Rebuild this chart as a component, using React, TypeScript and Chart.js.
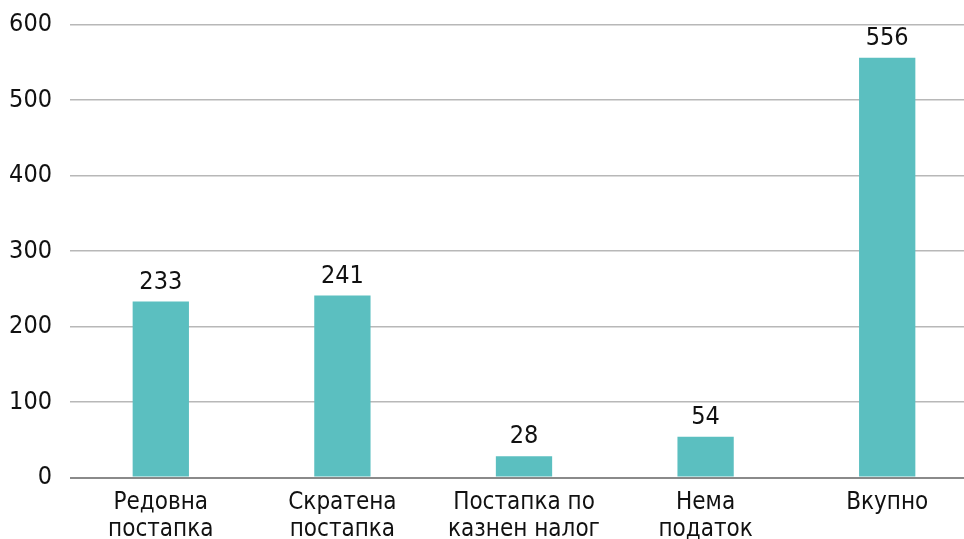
import React, { useEffect, useRef } from "react";
import { Chart, registerables } from "chart.js";

Chart.register(...registerables);

const categories: string[][] = [
  ["Редовна", "постапка"],
  ["Скратена", "постапка"],
  ["Постапка по", "казнен налог"],
  ["Нема", "податок"],
  ["Вкупно"],
];
const values: number[] = [233, 241, 28, 54, 556];
const yTicks: number[] = [0, 100, 200, 300, 400, 500, 600];

const FONT = "'DejaVu Sans Condensed', 'DejaVu Sans', sans-serif";

const valueLabels = {
  id: "valueLabels",
  afterDatasetsDraw(chart: any) {
    const ctx = chart.ctx;
    const meta = chart.getDatasetMeta(0);
    ctx.save();
    ctx.font = `25px ${FONT}`;
    ctx.fillStyle = "#111111";
    ctx.textAlign = "center";
    ctx.textBaseline = "alphabetic";
    meta.data.forEach((bar: any, i: number) => {
      ctx.fillText(String(values[i]), bar.x, bar.y - 13);
    });
    ctx.restore();
  },
};

export default function App() {
  const ref = useRef<HTMLCanvasElement | null>(null);
  useEffect(() => {
    if (!ref.current) return;
    const chart = new Chart(ref.current, {
      type: "bar",
      data: {
        labels: categories,
        datasets: [
          {
            data: values,
            backgroundColor: "#5BBFC0",
            borderWidth: 0,
            barPercentage: 0.31,
            categoryPercentage: 1,
          },
        ],
      },
      options: {
        responsive: false,
        animation: false,
        devicePixelRatio: 1,
        layout: { padding: { top: 24.5, right: 0, left: 0, bottom: 0 } },
        plugins: { legend: { display: false }, tooltip: { enabled: false } },
        scales: {
          x: {
            grid: { display: false, drawTicks: false },
            border: { display: false },
            ticks: {
              padding: 11,
              color: "#111111",
              font: { family: FONT, size: 24, lineHeight: 1.15 },
              maxRotation: 0,
              autoSkip: false,
            },
            afterFit(scale: any) {
              scale.height = 61.5;
            },
          },
          y: {
            min: 0,
            max: 600,
            afterBuildTicks(scale: any) {
              scale.ticks = yTicks.map((v) => ({ value: v }));
            },
            grid: {
              drawTicks: true,
              tickLength: 18,
              tickColor: "rgba(0,0,0,0)",
              color: (c: any) => (c.tick && c.tick.value === 0 ? "#8a8a8a" : "#b8b8b8"),
              lineWidth: (c: any) => (c.tick && c.tick.value === 0 ? 2 : 1.5),
            },
            border: { display: false },
            ticks: {
              padding: 0,
              color: "#111111",
              font: { family: FONT, size: 25 },
            },
            afterFit(scale: any) {
              scale.width = 70;
            },
          },
        },
      },
      plugins: [valueLabels],
    });
    return () => chart.destroy();
  }, []);
  return (
    <div
      style={{
        position: "fixed",
        left: 0,
        top: 0,
        width: 964,
        height: 539,
        overflow: "hidden",
        background: "#ffffff",
      }}
    >
      <canvas ref={ref} width={978} height={539} style={{ display: "block" }} />
    </div>
  );
}
